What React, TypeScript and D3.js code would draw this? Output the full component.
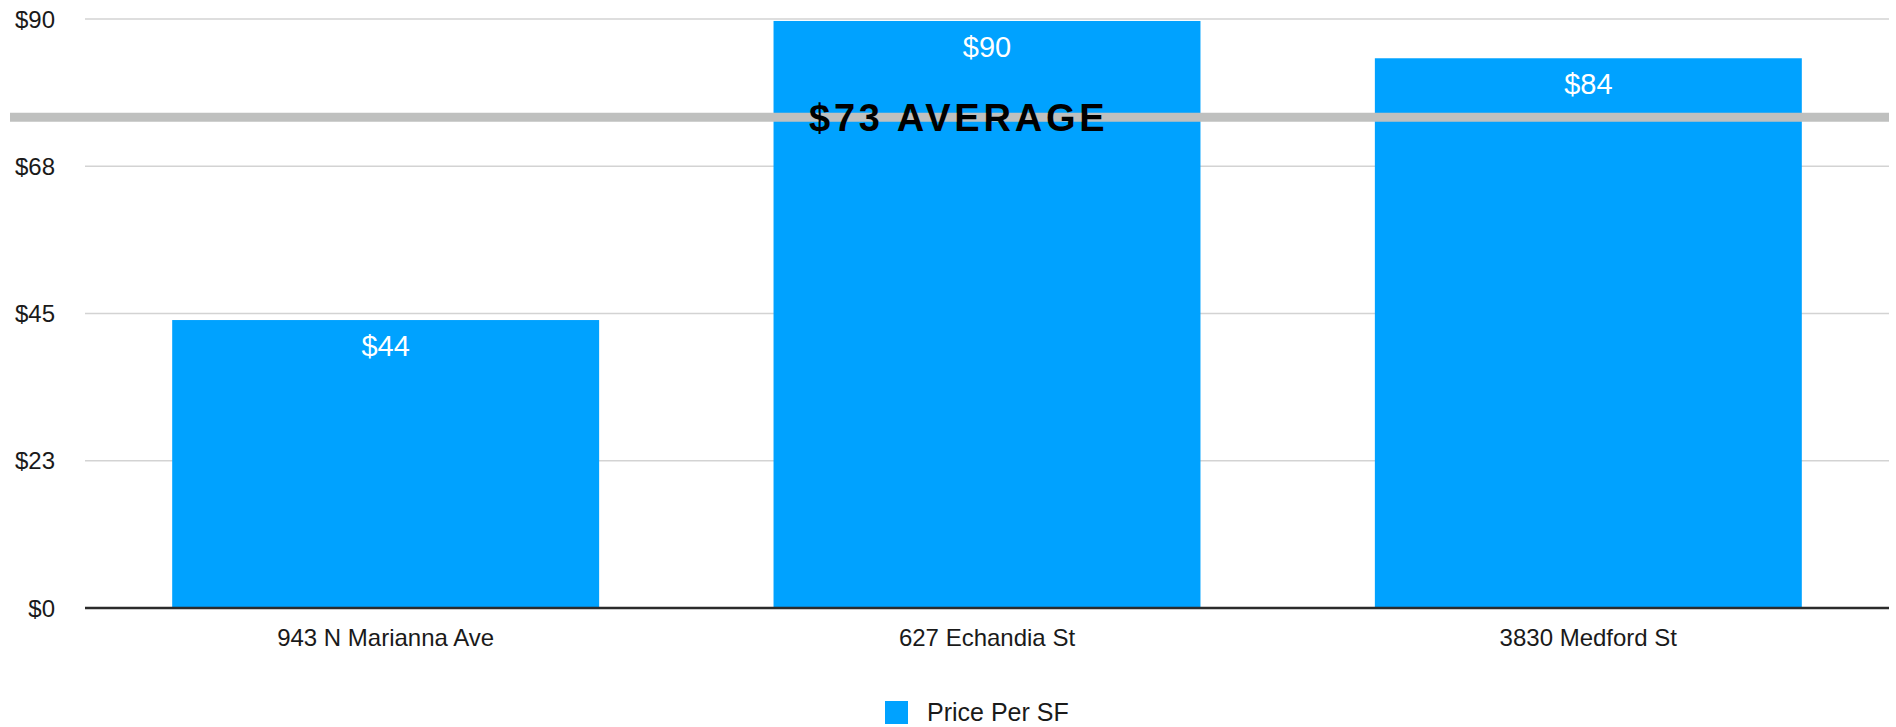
import { useRef, useEffect } from 'react'
import * as d3 from 'd3'

const categories = ['943 N Marianna Ave', '627 Echandia St', '3830 Medford St']
const pricePerSF = [44, 89.7, 84]
const valueLabels = ['$44', '$90', '$84']
const yTicks = [0, 22.5, 45, 67.5, 90]
const yTickLabels = ['$0', '$23', '$45', '$68', '$90']
const averageLevel = 75
const averageLabel = '$73 AVERAGE'
const seriesName = 'Price Per SF'

const WIDTH = 1896
const HEIGHT = 727
const BLUE = '#00a2ff'
const FONT = '"Liberation Sans", Arial, Helvetica, sans-serif'

export default function App() {
  const containerRef = useRef<HTMLDivElement>(null)

  useEffect(() => {
    if (!containerRef.current) return
    d3.select(containerRef.current).selectAll('*').remove()

    const margin = { top: 19, right: 7, bottom: 119, left: 85 }
    const innerW = WIDTH - margin.left - margin.right
    const innerH = HEIGHT - margin.top - margin.bottom

    const svg = d3
      .select(containerRef.current)
      .append('svg')
      .attr('width', WIDTH)
      .attr('height', HEIGHT)
      .style('display', 'block')

    const g = svg.append('g').attr('transform', `translate(${margin.left},${margin.top})`)

    const x = d3.scaleBand<string>().domain(categories).range([0, innerW]).paddingInner(0.29).paddingOuter(0.145)
    const y = d3.scaleLinear().domain([0, 90]).range([innerH, 0])

    // Gridlines
    g.selectAll('line.grid')
      .data(yTicks.filter((t) => t > 0))
      .join('line')
      .attr('class', 'grid')
      .attr('x1', 0)
      .attr('x2', innerW)
      .attr('y1', (d) => y(d))
      .attr('y2', (d) => y(d))
      .attr('stroke', '#d3d3d3')
      .attr('stroke-width', 1.5)

    // Y tick labels
    g.selectAll('text.ytick')
      .data(yTicks)
      .join('text')
      .attr('class', 'ytick')
      .attr('x', -30)
      .attr('y', (d) => y(d))
      .attr('dy', '0.36em')
      .attr('text-anchor', 'end')
      .attr('font-family', FONT)
      .attr('font-size', 24)
      .attr('fill', '#1a1a1a')
      .text((_, i) => yTickLabels[i])

    // Bars
    g.selectAll('rect.bar')
      .data(pricePerSF)
      .join('rect')
      .attr('class', 'bar')
      .attr('x', (_, i) => x(categories[i]) ?? 0)
      .attr('y', (d) => y(d))
      .attr('width', x.bandwidth())
      .attr('height', (d) => innerH - y(d))
      .attr('fill', BLUE)

    // Value labels
    g.selectAll('text.val')
      .data(pricePerSF)
      .join('text')
      .attr('class', 'val')
      .attr('x', (_, i) => (x(categories[i]) ?? 0) + x.bandwidth() / 2)
      .attr('y', (d) => y(d) + 36)
      .attr('text-anchor', 'middle')
      .attr('font-family', FONT)
      .attr('font-size', 29)
      .attr('fill', '#ffffff')
      .text((_, i) => valueLabels[i])

    // Baseline
    g.append('line')
      .attr('x1', 0)
      .attr('x2', innerW)
      .attr('y1', y(0))
      .attr('y2', y(0))
      .attr('stroke', '#2b2b2b')
      .attr('stroke-width', 2.5)

    // X labels
    g.selectAll('text.xlab')
      .data(categories)
      .join('text')
      .attr('class', 'xlab')
      .attr('x', (d) => (x(d) ?? 0) + x.bandwidth() / 2)
      .attr('y', innerH + 38)
      .attr('text-anchor', 'middle')
      .attr('font-family', FONT)
      .attr('font-size', 24)
      .attr('fill', '#1a1a1a')
      .text((d) => d)

    // Average line + label
    g.append('line')
      .attr('x1', 10 - margin.left)
      .attr('x2', innerW)
      .attr('y1', y(averageLevel))
      .attr('y2', y(averageLevel))
      .attr('stroke', '#bfc0bf')
      .attr('stroke-width', 9)

    g.append('text')
      .attr('x', 809 - margin.left)
      .attr('y', y(averageLevel) + 14)
      .attr('font-family', FONT)
      .attr('font-weight', 'bold')
      .attr('font-size', 38)
      .attr('letter-spacing', 3.8)
      .attr('fill', '#000000')
      .text(averageLabel)

    // Legend
    const legend = svg.append('g').attr('transform', 'translate(885,701)')
    legend.append('rect').attr('width', 23).attr('height', 23).attr('fill', BLUE)
    legend
      .append('text')
      .attr('x', 42)
      .attr('y', 20)
      .attr('font-family', FONT)
      .attr('font-size', 25)
      .attr('fill', '#1a1a1a')
      .text(seriesName)
  }, [])

  return (
    <div
      ref={containerRef}
      style={{ position: 'absolute', left: 0, top: 0, width: WIDTH, height: HEIGHT, background: '#fff' }}
    />
  )
}
